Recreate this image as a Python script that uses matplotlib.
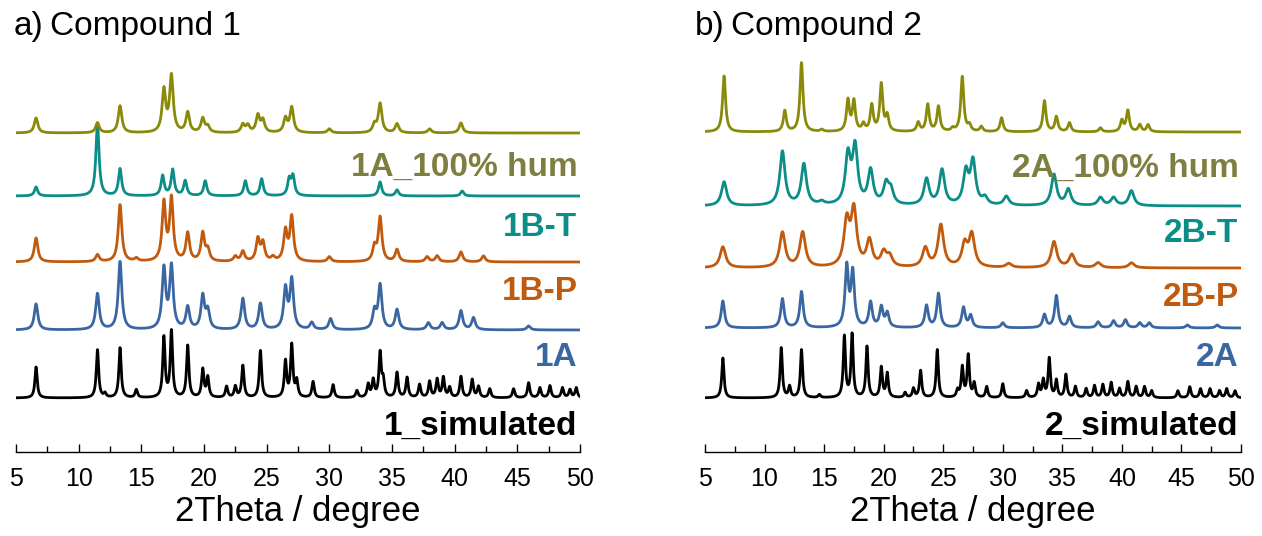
import numpy as np
import matplotlib

matplotlib.use("Agg")
import matplotlib.pyplot as plt
from matplotlib.ticker import MultipleLocator

plt.rcParams["font.family"] = ["Liberation Sans", "DejaVu Sans"]

# ---- peak lists: (2theta, intensity a.u.) ----
sim1_pos = [6.6, 11.5, 12.1, 13.3, 14.6, 16.8, 17.4, 18.7, 19.9, 20.3, 21.8, 22.5, 23.1,
            24.5, 26.5, 27.0, 27.4, 28.7, 30.3, 32.2, 33.1, 33.5, 34.05, 34.3, 35.4, 36.2,
            37.2, 38.0, 38.6, 39.1, 39.6, 40.5, 41.4, 41.9, 42.8, 44.7, 45.9, 46.8, 47.6,
            48.6, 49.2, 49.7]
sim1_int = [31, 48, 4, 50, 8, 60, 66, 52, 28, 20, 11, 11, 32, 47, 36, 52, 16, 16, 13, 7,
            13, 17, 44, 16, 25, 20, 13, 16, 18, 20, 10, 21, 18, 11, 9, 9, 15, 10, 12, 10, 8, 10]

a1A_pos = [6.6, 11.5, 13.3, 16.8, 17.4, 18.7, 19.9, 20.3, 23.1, 24.5, 26.5, 27.0, 28.6,
           30.1, 33.6, 34.05, 35.4, 37.9, 39.0, 40.5, 41.5, 45.9]
a1A_int = [26, 36, 68, 60, 62, 22, 33, 18, 31, 26, 40, 49, 7, 11, 18, 44, 20, 7, 7, 19, 12, 4]

a1BP_pos = [6.6, 11.5, 13.3, 14.6, 16.8, 17.4, 18.7, 19.9, 20.3, 22.5, 23.1, 24.3, 24.7,
            25.5, 26.5, 27.0, 30.0, 33.6, 34.05, 35.4, 37.8, 38.6, 40.5, 42.3]
a1BP_int = [24, 7, 57, 3, 58, 62, 28, 28, 11, 5, 10, 22, 18, 4, 30, 44, 5, 14, 44, 12, 5, 6, 10, 6]

a1BT_pos = [6.6, 11.5, 13.3, 16.7, 17.5, 18.5, 20.1, 23.3, 24.6, 26.8, 27.1, 34.05, 35.4, 40.6]
a1BT_int = [9, 73, 27, 20, 26, 15, 15, 15, 17, 16, 19, 14, 6, 5]

a1H_pos = [6.6, 11.5, 13.3, 16.8, 17.4, 18.7, 19.9, 20.3, 23.1, 23.5, 24.3, 24.7, 26.5,
           27.0, 30.0, 33.6, 34.05, 35.4, 38.0, 40.5]
a1H_int = [15, 10, 27, 42, 56, 20, 14, 6, 8, 7, 17, 12, 14, 25, 4, 8, 29, 9, 4, 10]

sim2_pos = [6.5, 11.4, 12.1, 13.1, 14.6, 16.7, 17.35, 18.6, 19.8, 20.3, 21.8, 22.5, 23.1,
            24.5, 26.2, 26.6, 27.1, 27.6, 28.65, 30.0, 32.0, 33.0, 33.4, 33.9, 34.5, 35.3,
            36.1, 37.0, 37.7, 38.4, 39.1, 39.8, 40.5, 41.2, 41.9, 42.5, 44.7, 45.7, 46.6,
            47.4, 48.2, 48.8, 49.5]
sim2_int = [40, 50, 11, 48, 3, 61, 63, 51, 30, 24, 5, 9, 27, 48, 7, 30, 42, 14, 11, 14, 7,
            13, 17, 39, 17, 23, 11, 9, 12, 13, 15, 9, 16, 11, 11, 7, 7, 11, 9, 9, 7, 9, 7]

b2A_pos = [6.5, 11.5, 13.1, 16.9, 17.4, 18.9, 19.8, 20.3, 23.6, 24.6, 26.7, 27.3, 30.0,
           33.5, 34.5, 35.6, 38.0, 39.3, 40.3, 41.5, 42.3, 45.5, 48.0]
b2A_int = [27, 29, 36, 60, 54, 25, 20, 14, 22, 34, 20, 12, 5, 13, 32, 11, 6, 7, 8, 5, 5, 3, 3]

b2BP_pos = [6.5, 11.5, 13.2, 16.9, 17.5, 18.8, 20.0, 20.5, 23.5, 24.8, 26.8, 27.4, 30.5,
            34.3, 35.8, 38.0, 40.8]
b2BP_int = [21, 35, 35, 44, 55, 26, 14, 10, 19, 42, 22, 32, 4, 26, 13, 5, 5]

b2BT_pos = [6.6, 11.5, 13.3, 14.8, 17.0, 17.6, 18.9, 20.2, 20.6, 23.6, 24.9, 26.9, 27.5,
            28.5, 30.3, 34.3, 35.5, 38.2, 39.3, 40.8]
b2BT_int = [24, 54, 41, 3, 48, 56, 34, 20, 14, 26, 35, 32, 43, 7, 9, 31, 16, 8, 8, 15]

b2H_pos = [6.6, 11.7, 13.1, 14.8, 17.0, 17.5, 18.3, 19.0, 19.8, 20.3, 22.9, 23.7, 24.6,
           25.8, 26.6, 27.2, 28.2, 29.9, 33.5, 34.5, 35.6, 38.2, 40.0, 40.5, 41.5, 42.2]
b2H_int = [56, 21, 69, 2, 31, 30, 7, 26, 47, 15, 9, 27, 25, 3, 55, 6, 5, 14, 31, 15, 9, 4, 11, 21, 7, 7]

labels_a = ["1_simulated", "1A", "1B-P", "1B-T", "1A_100% hum"]
labels_b = ["2_simulated", "2A", "2B-P", "2B-T", "2A_100% hum"]
offsets_a = [0, 68, 136, 202, 265]
offsets_b = [0, 70, 130, 192, 266]
label_y_a = [-28, 41, 106, 170, 231]
label_y_b = [-28, 40, 100, 165, 230]

line_colors = ["#000000", "#3A67A2", "#C25A0E", "#0C8E88", "#8A8A0A"]
text_colors = ["#000000", "#3A67A2", "#C25A0E", "#0C8E88", "#7E7E40"]
hwhm_a = [0.11, 0.17, 0.17, 0.15, 0.17]
hwhm_b = [0.11, 0.17, 0.28, 0.26, 0.15]

x = np.linspace(5, 50, 4000)


def pattern(pos, inten, w):
    y = np.zeros_like(x)
    for p, h in zip(pos, inten):
        y += h / (1.0 + ((x - p) / w) ** 2)
    return y


fig = plt.figure(figsize=(12.62, 5.36), dpi=100)
ax_a = fig.add_axes([16 / 1262, 84 / 536, 564 / 1262, 397 / 536])
ax_b = fig.add_axes([705 / 1262, 84 / 536, 536 / 1262, 397 / 536])

panels = [
    (ax_a, [(sim1_pos, sim1_int), (a1A_pos, a1A_int), (a1BP_pos, a1BP_int),
            (a1BT_pos, a1BT_int), (a1H_pos, a1H_int)], labels_a, offsets_a, label_y_a, hwhm_a),
    (ax_b, [(sim2_pos, sim2_int), (b2A_pos, b2A_int), (b2BP_pos, b2BP_int),
            (b2BT_pos, b2BT_int), (b2H_pos, b2H_int)], labels_b, offsets_b, label_y_b, hwhm_b),
]

for ax, data, labels, offs, ly, widths in panels:
    for (pos, inten), lab, off, yl, w, lc, tc in zip(data, labels, offs, ly, widths,
                                                    line_colors, text_colors):
        ax.plot(x, pattern(pos, inten, w) + off, color=lc, lw=2.0)
        ax.text(49.8, yl, lab, color=tc, fontsize=24, fontweight="bold",
                ha="right", va="center")
    ax.set_xlim(5, 50)
    ax.set_ylim(-54, 343)
    for s in ("top", "left", "right"):
        ax.spines[s].set_visible(False)
    ax.spines["bottom"].set_linewidth(1.0)
    ax.set_yticks([])
    ax.xaxis.set_major_locator(MultipleLocator(5))
    ax.xaxis.set_minor_locator(MultipleLocator(2.5))
    ax.tick_params(axis="x", which="major", direction="in", length=6, width=1,
                   labelsize=18, pad=11)
    ax.tick_params(axis="x", which="minor", direction="in", length=4, width=1)
    ax.set_xlabel("2Theta / degree", fontsize=25, labelpad=3)

fig.text(14 / 1262, 1 - 27 / 536, "a)", fontsize=24, va="center", ha="left")
fig.text(50 / 1262, 1 - 27 / 536, "Compound 1", fontsize=24, va="center", ha="left")
fig.text(695 / 1262, 1 - 27 / 536, "b)", fontsize=24, va="center", ha="left")
fig.text(731 / 1262, 1 - 27 / 536, "Compound 2", fontsize=24, va="center", ha="left")

fig.savefig("out.png", dpi=100)
